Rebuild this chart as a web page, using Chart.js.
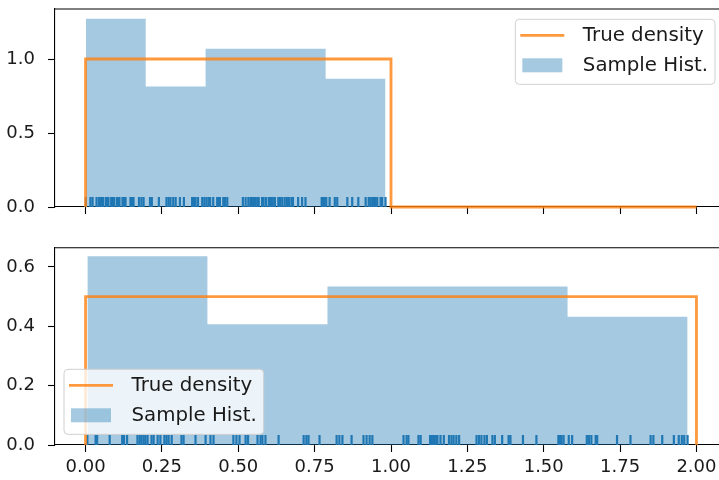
<!DOCTYPE html>
<html>
<head>
<meta charset="utf-8">
<title>Uniform samples vs true density</title>
<script src="https://cdn.jsdelivr.net/npm/chart.js@4.4.1/dist/chart.umd.min.js"></script>
<style>
  html, body { margin: 0; padding: 0; background: #fff; overflow: hidden; width: 719px; height: 480px; }
  canvas { position: absolute; left: 0; }
  #top { top: 0; }
  #bottom { top: 238px; }
</style>
</head>
<body>
<canvas id="top" width="728" height="216"></canvas>
<canvas id="bottom" width="728" height="242"></canvas>
<script>
// tick labels
const xTicks = [0, 0.25, 0.5, 0.75, 1, 1.25, 1.5, 1.75, 2];
const topYTicks = [0, 0.5, 1.0];
const bottomYTicks = [0, 0.2, 0.4, 0.6];

// true density (step shape)
const topDensityX = [0, 0, 1, 1, 2];
const topDensityY = [0, 1, 1, 0, 0];
const bottomDensityX = [0, 0, 2, 2];
const bottomDensityY = [0, 0.5, 0.5, 0];

// histogram bins
const topBinEdges = [0.001, 0.197, 0.393, 0.590, 0.786, 0.982];
const topBinHeights = [1.272, 0.814, 1.069, 1.069, 0.866];
const bottomBinEdges = [0.006, 0.399, 0.792, 1.185, 1.578, 1.971];
const bottomBinHeights = [0.636, 0.407, 0.534, 0.534, 0.432];

// rug samples (100 each)
const topSamples = [
  0.001, 0.016, 0.023, 0.036, 0.044, 0.051, 0.057, 0.066, 0.070, 0.075,
  0.084, 0.088, 0.093, 0.102, 0.106, 0.111, 0.121, 0.126, 0.131, 0.147,
  0.152, 0.157, 0.175, 0.183, 0.190,
  0.211, 0.217, 0.240, 0.265, 0.272, 0.278, 0.287, 0.295, 0.309, 0.322,
  0.349, 0.355, 0.360, 0.368, 0.382, 0.389,
  0.396, 0.403, 0.408, 0.418, 0.431, 0.435, 0.440, 0.451, 0.457, 0.464,
  0.515, 0.524, 0.533, 0.540, 0.544, 0.548, 0.555, 0.562, 0.567, 0.578,
  0.583,
  0.591, 0.600, 0.603, 0.607, 0.613, 0.620, 0.631, 0.637, 0.644, 0.652,
  0.659, 0.662, 0.666, 0.674, 0.679, 0.696, 0.709, 0.720, 0.773, 0.777,
  0.782,
  0.788, 0.799, 0.816, 0.824, 0.857, 0.873, 0.893, 0.917, 0.927, 0.933,
  0.939, 0.944, 0.949, 0.955, 0.966, 0.971, 0.982
];
const bottomSamples = [
  0.006, 0.033, 0.038, 0.079, 0.120, 0.126, 0.136, 0.170, 0.177, 0.183,
  0.190, 0.196, 0.203, 0.216, 0.223, 0.236, 0.245, 0.258, 0.265, 0.272,
  0.282, 0.314, 0.321, 0.360, 0.393,
  0.409, 0.419, 0.484, 0.494, 0.504, 0.524, 0.532, 0.563, 0.573, 0.579,
  0.589, 0.632, 0.714, 0.723, 0.730, 0.766,
  0.822, 0.831, 0.841, 0.871, 0.910, 0.920, 0.930, 0.939, 1.041, 1.051,
  1.057, 1.090, 1.097, 1.128, 1.133, 1.137, 1.142, 1.148, 1.152, 1.162,
  1.173,
  1.190, 1.198, 1.205, 1.214, 1.223, 1.280, 1.288, 1.296, 1.306, 1.314,
  1.332, 1.340, 1.364, 1.385, 1.391, 1.432, 1.476, 1.548, 1.553, 1.558,
  1.565,
  1.582, 1.593, 1.641, 1.648, 1.656, 1.670, 1.675, 1.740, 1.784, 1.850,
  1.859, 1.888, 1.926, 1.942, 1.952, 1.960, 1.971
];

const ORANGE = 'rgba(255, 127, 14, 0.8)';
const BLUE = '#1f77b4';
const HIST_BLUE = 'rgba(31, 119, 180, 0.4)';
const FONT = 'DejaVu Sans';
const TEXT = '#1a1a1a';

Chart.defaults.font.family = FONT;
Chart.defaults.color = TEXT;

// top spine (chart.js only draws the axis borders)
const frame = {
  id: 'frame',
  afterDraw(chart) {
    const { ctx, chartArea: a } = chart;
    ctx.save();
    ctx.strokeStyle = '#000';
    ctx.lineWidth = 1.1;
    ctx.beginPath();
    ctx.moveTo(a.left, a.top);
    ctx.lineTo(a.right, a.top);
    ctx.lineTo(a.right, a.bottom);
    ctx.stroke();
    ctx.restore();
  }
};

// matplotlib-like legend box inside the plot area
const boxLegend = {
  id: 'boxLegend',
  afterDraw(chart, args, opts) {
    const { ctx, chartArea: a } = chart;
    const items = chart.data.datasets.filter(d => d.label);
    ctx.save();
    ctx.font = `${opts.fontSize}px "${FONT}"`;
    const textW = Math.max(...items.map(d => ctx.measureText(d.label).width));
    const w = 67.5 + textW + 7;
    const h = 65;
    const x = opts.corner === 'ur' ? a.right - opts.padX - w : a.left + opts.padX;
    const y = opts.corner === 'ur' ? a.top + opts.padY : a.bottom - opts.padY - h;

    ctx.beginPath();
    ctx.roundRect(x, y, w, h, 4);
    ctx.fillStyle = 'rgba(255,255,255,0.8)';
    ctx.fill();
    ctx.strokeStyle = '#d0d0d0';
    ctx.lineWidth = 1;
    ctx.stroke();

    items.forEach((d, i) => {
      const cy = y + 16 + i * 30;
      if (d.fill) {
        ctx.fillStyle = d.backgroundColor;
        ctx.fillRect(x + 7, cy - 7, 40, 14);
      } else {
        ctx.strokeStyle = d.borderColor;
        ctx.lineWidth = d.borderWidth;
        ctx.beginPath();
        ctx.moveTo(x + 5, cy);
        ctx.lineTo(x + 49, cy);
        ctx.stroke();
      }
      ctx.fillStyle = TEXT;
      ctx.textBaseline = 'middle';
      ctx.textAlign = 'left';
      ctx.fillText(d.label, x + 67.5, cy + 1);
    });
    ctx.restore();
  }
};

function setTicks(values) {
  return axis => { axis.ticks = values.map(v => ({ value: v })); };
}

function makeChart(id, cfg) {
  const points = (xs, ys) => xs.map((x, i) => ({ x, y: ys[i] }));
  const histPoints = cfg.edges.map((e, i) => ({ x: e, y: cfg.heights[Math.min(i, cfg.heights.length - 1)] }));

  return new Chart(document.getElementById(id), {
    type: 'line',
    data: {
      datasets: [
        {
          label: 'True density',
          data: points(cfg.densityX, cfg.densityY),
          borderColor: ORANGE,
          borderWidth: 2.8,
          pointRadius: 0,
          fill: false,
          tension: 0,
          clip: false,
          order: 0
        },
        {
          label: 'Sample Hist.',
          data: histPoints,
          stepped: 'before',
          borderWidth: 0,
          borderColor: 'rgba(0,0,0,0)',
          backgroundColor: HIST_BLUE,
          fill: 'origin',
          pointRadius: 0,
          order: 2
        },
        {
          // rug: one short vertical tick per sample on the baseline
          type: 'scatter',
          data: cfg.samples.map(v => ({ x: v, y: 0 })),
          pointStyle: 'line',
          pointRotation: 90,
          pointRadius: 10,
          pointBorderColor: BLUE,
          pointBorderWidth: 2.2,
          clip: 0,
          order: 1
        }
      ]
    },
    options: {
      responsive: false,
      animation: false,
      events: [],
      layout: { autoPadding: false, padding: { top: cfg.padTop, right: 1, left: 0, bottom: 0 } },
      scales: {
        x: {
          type: 'linear',
          min: -0.1,
          max: 2.1,
          afterBuildTicks: setTicks(xTicks),
          afterFit: s => { s.height = cfg.xHeight; s.paddingLeft = 0; s.paddingRight = 0; },
          grid: { drawOnChartArea: false, drawTicks: true, tickLength: 7, tickColor: '#000', tickWidth: 1.1 },
          border: { display: true, color: '#000', width: 1.1 },
          ticks: {
            display: cfg.xLabels,
            padding: 5,
            color: TEXT,
            font: { size: 18 },
            maxRotation: 0,
            autoSkip: false,
            callback: v => v.toFixed(2)
          }
        },
        y: {
          min: 0,
          max: cfg.yMax,
          afterBuildTicks: setTicks(cfg.yTicks),
          afterFit: s => { s.width = 55; s.paddingTop = 0; s.paddingBottom = 0; },
          grid: { drawOnChartArea: false, drawTicks: true, tickLength: 7, tickColor: '#000', tickWidth: 1.1 },
          border: { display: true, color: '#000', width: 1.1 },
          ticks: {
            padding: 13,
            color: TEXT,
            font: { size: 18 },
            autoSkip: false,
            callback: v => v.toFixed(1)
          }
        }
      },
      plugins: {
        legend: { display: false },
        tooltip: { enabled: false },
        boxLegend: cfg.legend
      }
    },
    plugins: [frame, boxLegend]
  });
}

makeChart('top', {
  densityX: topDensityX, densityY: topDensityY,
  edges: topBinEdges, heights: topBinHeights,
  samples: topSamples,
  yMax: 1.338, yTicks: topYTicks,
  padTop: 9, xHeight: 9, xLabels: false,
  legend: { corner: 'ur', padX: 12, padY: 10.3, fontSize: 19.8 }
});

makeChart('bottom', {
  densityX: bottomDensityX, densityY: bottomDensityY,
  edges: bottomBinEdges, heights: bottomBinHeights,
  samples: bottomSamples,
  yMax: 0.665, yTicks: bottomYTicks,
  padTop: 9.7, xHeight: 35, xLabels: true,
  legend: { corner: 'll', padX: 9, padY: 10.7, fontSize: 19.8 }
});
</script>
</body>
</html>
